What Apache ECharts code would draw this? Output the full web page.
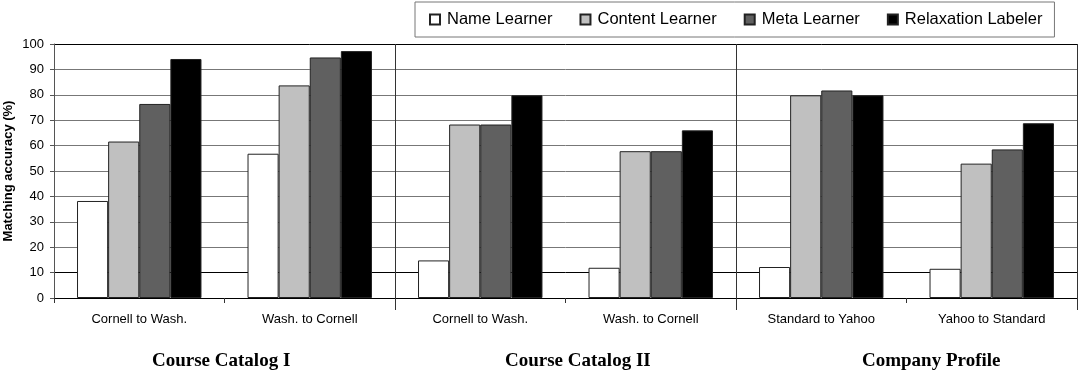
<!DOCTYPE html>
<html><head><meta charset="utf-8">
<script src="https://cdn.jsdelivr.net/npm/echarts@6/dist/echarts.min.js"></script>
<style>html,body{margin:0;padding:0;background:#fff}#c{width:1079px;height:378px}</style>
</head><body><div id="c"></div>
<script>
const categories = ['Cornell to Wash.', 'Wash. to Cornell', 'Cornell to Wash.', 'Wash. to Cornell', 'Standard to Yahoo', 'Yahoo to Standard'];
const groupLabels = ['Course Catalog I', 'Course Catalog II', 'Company Profile'];
const nameLearner = [38.2, 56.8, 14.8, 11.9, 12.2, 11.5];
const contentLearner = [61.6, 83.7, 68.3, 57.8, 79.8, 52.9];
const metaLearner = [76.4, 94.7, 68.3, 57.8, 81.7, 58.5];
const relaxationLabeler = [94.1, 97.2, 79.8, 66.0, 79.8, 68.8];
const yTicks = [0,10,20,30,40,50,60,70,80,90,100];

const chart = echarts.init(document.getElementById('c'), null, {renderer:'canvas'});
const F = "'Liberation Sans', Arial, sans-serif";
const SERIF = "bold 19px 'Liberation Serif', 'Times New Roman', serif";
const mk = (name, data, color) => ({
  name, type:'bar', data, xAxisIndex:0, yAxisIndex:0,
  barGap:'0%', barCategoryGap:'27%',
  itemStyle:{color, borderColor:'#222', borderWidth:1},
  emphasis:{disabled:true}
});
chart.setOption({
  animation:false,
  backgroundColor:'#fff',
  grid:{left:54, right:2, top:44, bottom:80, containLabel:false, outerBoundsMode:'none'},
  legend:{
    left:415, top:2,
    padding:[9,12,9,14],
    borderColor:'#777', borderWidth:1,
    itemWidth:10, itemHeight:10, itemGap:27,
    icon:'rect',
    textStyle:{fontFamily:F, fontSize:16.5, color:'#000', padding:[0,0,0,2]},
    data:['Name Learner','Content Learner','Meta Learner','Relaxation Labeler']
  },
  xAxis:[{
    type:'category', data:categories, position:'bottom',
    axisLine:{lineStyle:{color:'#000', width:1}},
    axisTick:{show:true, length:5, alignWithLabel:false, lineStyle:{color:'#333'}},
    axisLabel:{fontFamily:F, fontSize:13, color:'#000', margin:15},
    splitLine:{show:true, interval:(i)=> i===2 || i===4, lineStyle:{color:'#333', width:1}}
  },{
    type:'category', data:categories, position:'bottom',
    axisLine:{show:false},
    axisTick:{show:true, length:12, interval:(i)=> i===2 || i===4, lineStyle:{color:'#333'}},
    axisLabel:{show:false}, splitLine:{show:false}
  }],
  yAxis:{
    type:'value', min:0, max:100, interval:10,
    name:'Matching accuracy (%)', nameLocation:'middle', nameGap:39, nameMoveOverlap:false,
    nameTextStyle:{fontFamily:F, fontSize:13, fontWeight:'bold', color:'#000'},
    axisLine:{show:true, lineStyle:{color:'#555'}},
    axisTick:{show:true, length:4, lineStyle:{color:'#555'}},
    axisLabel:{fontFamily:F, fontSize:13, color:'#000', margin:10,
      formatter:(v)=> String(yTicks[yTicks.indexOf(v)])},
    splitLine:{show:true, lineStyle:{width:1, color:['#000','#000','#777','#777','#777','#777','#777','#777','#777','#777','#000']}}
  },
  series:[
    mk('Name Learner', nameLearner, '#ffffff'),
    mk('Content Learner', contentLearner, '#c0c0c0'),
    mk('Meta Learner', metaLearner, '#606060'),
    mk('Relaxation Labeler', relaxationLabeler, '#000000')
  ],
  graphic:[
    {type:'text', left:152, top:352, style:{text:groupLabels[0], font:SERIF, fill:'#000'}},
    {type:'text', left:505, top:352, style:{text:groupLabels[1], font:SERIF, fill:'#000'}},
    {type:'text', left:862, top:352, style:{text:groupLabels[2], font:SERIF, fill:'#000'}}
  ]
});
</script></body></html>
